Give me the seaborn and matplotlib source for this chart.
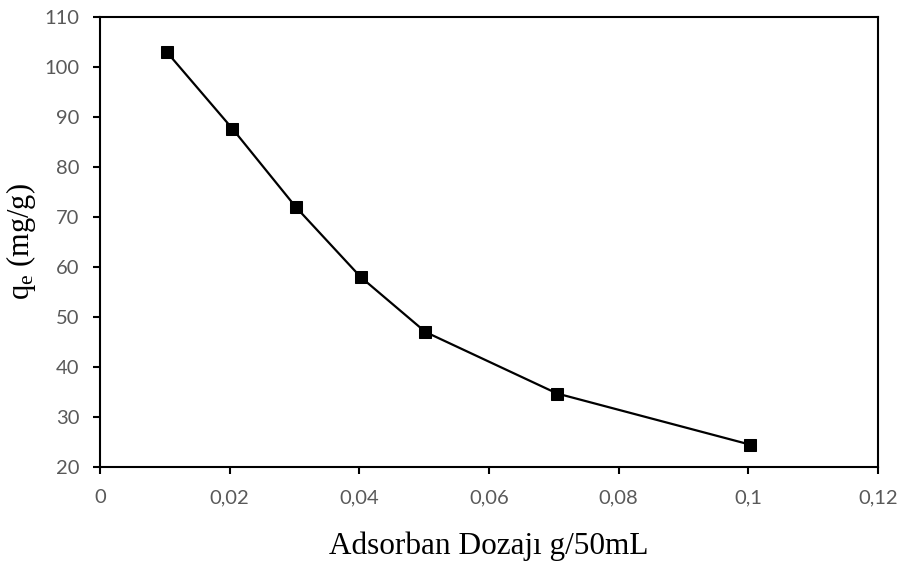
import matplotlib
matplotlib.use("Agg")
import matplotlib.pyplot as plt
import seaborn as sns
import pandas as pd
from matplotlib.ticker import FuncFormatter

dosage = [0.0103, 0.0204, 0.0302, 0.0402, 0.0502, 0.0705, 0.1002]
qe = [103.0, 87.7, 72.0, 58.0, 47.0, 34.7, 24.5]

df = pd.DataFrame({"dose": dosage, "qe": qe})

sns.set_theme(style="ticks")
plt.rcParams['font.family'] = ['Lato', 'DejaVu Sans']
plt.rcParams['mathtext.fontset'] = 'custom'
plt.rcParams['mathtext.rm'] = 'Liberation Serif'
plt.rcParams['mathtext.it'] = 'Liberation Serif:italic'

fig = plt.figure(figsize=(9.08, 5.62), dpi=100)
ax = fig.add_axes([100/908, 1-467/562, (878-100)/908, (467-17)/562])

sns.lineplot(data=df, x="dose", y="qe", ax=ax, color="black", linewidth=1.6,
             marker="s", markersize=8, markeredgecolor="black", markerfacecolor="black")

ax.set_xlim(0, 0.12)
ax.set_ylim(20, 110)
ax.set_xticks([0, 0.02, 0.04, 0.06, 0.08, 0.1, 0.12])
ax.set_yticks(range(20, 111, 10))
ax.xaxis.set_major_formatter(FuncFormatter(lambda v, p: ("%g" % round(v, 4)).replace(".", ",")))

for s in ax.spines.values():
    s.set_color("black")
    s.set_linewidth(1.5)
ax.tick_params(axis="both", direction="out", length=5, width=1.5, color="black",
               labelsize=14.5, labelcolor="#595959")
ax.tick_params(axis="x", pad=11)
ax.tick_params(axis="y", pad=10)

ax.set_xlabel("Adsorban Dozajı g/50mL", fontfamily="Liberation Serif", fontsize=22.5, color="black", labelpad=18)
ax.set_ylabel(r"q$_\mathrm{e}$ (mg/g)", fontfamily="Liberation Serif", fontsize=22, color="black", labelpad=4)

fig.savefig("out.png", dpi=100)
